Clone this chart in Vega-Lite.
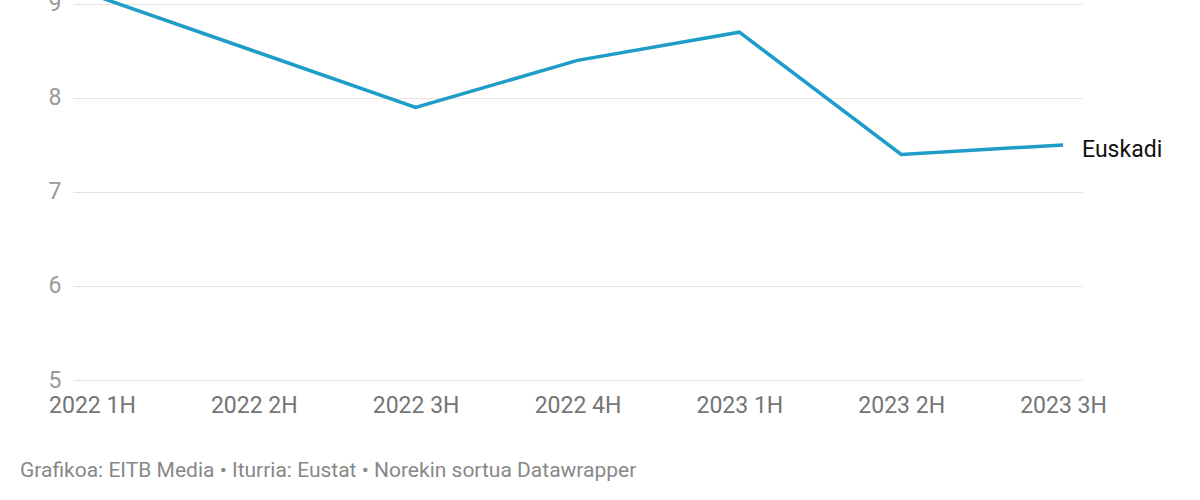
{
  "$schema": "https://vega.github.io/schema/vega-lite/v6.json",
  "autosize": {"type": "none"},
  "width": 1009,
  "height": 380,
  "padding": {"left": 73, "top": 0, "right": 118, "bottom": 120},
  "background": "white",
  "config": {
    "font": "Roboto",
    "view": {"stroke": null}
  },
  "title": {
    "text": "Grafikoa: EITB Media • Iturria: Eustat • Norekin sortua Datawrapper",
    "orient": "bottom",
    "anchor": "start",
    "frame": "group",
    "dx": -53,
    "offset": 43,
    "fontSize": 21,
    "fontWeight": "normal",
    "color": "#888888",
    "font": "Roboto"
  },
  "data": {
    "values": [
      {"period": "2022 1H", "value": 9.1, "serie": "Euskadi"},
      {"period": "2022 2H", "value": 8.5, "serie": "Euskadi"},
      {"period": "2022 3H", "value": 7.9, "serie": "Euskadi"},
      {"period": "2022 4H", "value": 8.4, "serie": "Euskadi"},
      {"period": "2023 1H", "value": 8.7, "serie": "Euskadi"},
      {"period": "2023 2H", "value": 7.4, "serie": "Euskadi"},
      {"period": "2023 3H", "value": 7.5, "serie": "Euskadi"}
    ]
  },
  "encoding": {
    "x": {
      "field": "period",
      "type": "ordinal",
      "scale": {"type": "point", "padding": 0.117},
      "axis": {
        "title": null,
        "labelAngle": 0,
        "labelFontSize": 23,
        "labelColor": "#757575",
        "labelPadding": 14,
        "domain": false,
        "ticks": false,
        "grid": false
      }
    },
    "y": {
      "field": "value",
      "type": "quantitative",
      "scale": {"domain": [5, 9.0425], "nice": false, "zero": false},
      "axis": {
        "title": null,
        "values": [5, 6, 7, 8, 9],
        "labelFontSize": 23,
        "labelColor": "#9a9a9a",
        "labelPadding": 12,
        "domain": false,
        "ticks": false,
        "gridColor": "#e3e3e3",
        "gridWidth": 1
      }
    }
  },
  "layer": [
    {
      "mark": {"type": "line", "color": "#1e9dc8", "strokeWidth": 3.5, "clip": true}
    },
    {
      "transform": [{"filter": "datum.period == '2023 3H'"}],
      "mark": {
        "type": "text",
        "align": "left",
        "baseline": "middle",
        "dx": 19,
        "dy": 5,
        "fontSize": 23,
        "color": "#111111"
      },
      "encoding": {"text": {"field": "serie"}}
    }
  ]
}
